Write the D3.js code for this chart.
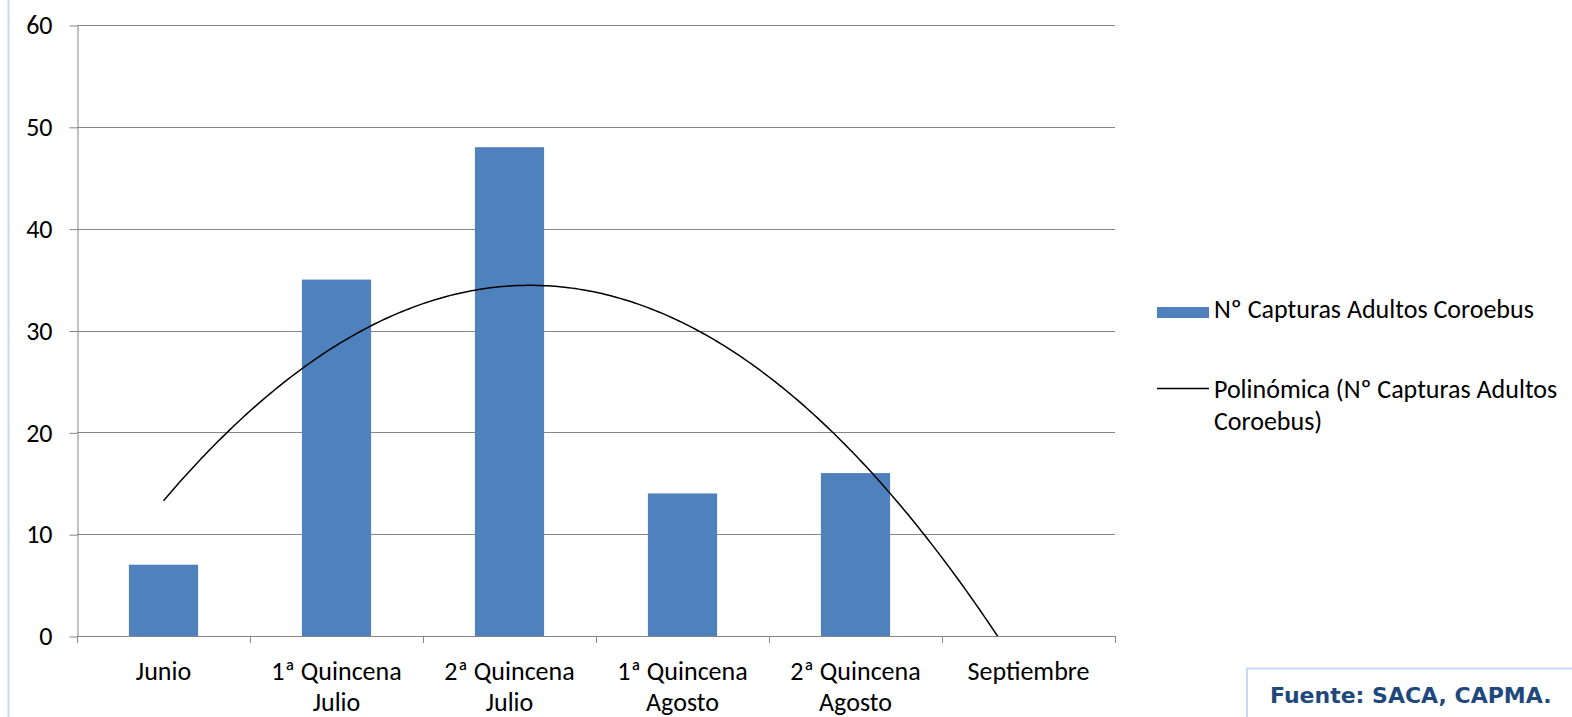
<!DOCTYPE html>
<html>
<head>
<meta charset="utf-8">
<script src="https://cdn.jsdelivr.net/npm/d3@7"></script>
<style>
  body { margin: 0; background: #fff; }
  text { font-family: Carlito, Calibri, Lato, sans-serif; }
</style>
</head>
<body>
<script>
var width = 1572;
var height = 717;

var categories = [["Junio"], ["1ª Quincena", "Julio"], ["2ª Quincena", "Julio"],
                  ["1ª Quincena", "Agosto"], ["2ª Quincena", "Agosto"], ["Septiembre"]];
var capturas = [7, 35, 48, 14, 16, 0];
var yTicks = [0, 10, 20, 30, 40, 50, 60];
var seriesName = "Nº Capturas Adultos Coroebus";
var trendName = ["Polinómica (Nº Capturas Adultos", "Coroebus)"];
var fuente = "Fuente: SACA, CAPMA.";

var plotLeft = 77, plotRight = 1115, plotTop = 25, plotBottom = 636;
var fs = 26;

var svg = d3.select("body").append("svg")
    .attr("width", width)
    .attr("height", height);

// page border on the left
svg.append("line")
    .attr("x1", 8.5).attr("x2", 8.5)
    .attr("y1", 0).attr("y2", height)
    .attr("stroke", "#c6d9f1").attr("stroke-width", 2);

var x = d3.scaleBand()
    .domain(d3.range(categories.length))
    .range([plotLeft, plotRight])
    .paddingInner(0.6).paddingOuter(0.3);
var band = (plotRight - plotLeft) / categories.length;

var y = d3.scaleLinear().domain([0, 60]).range([plotBottom, plotTop]);

// gridlines
svg.append("g").selectAll("line")
    .data(yTicks.filter(function(d) { return d > 0; }))
    .join("line")
    .attr("x1", plotLeft).attr("x2", plotRight)
    .attr("y1", function(d) { return Math.round(y(d)) + 0.5; })
    .attr("y2", function(d) { return Math.round(y(d)) + 0.5; })
    .attr("stroke", "#868686").attr("stroke-width", 1);

// y axis
var yAxis = svg.append("g")
    .attr("transform", "translate(" + (plotLeft + 0.5) + ",0.5)")
    .call(d3.axisLeft(y).tickValues(yTicks).tickSize(8).tickPadding(17).tickSizeOuter(0));
yAxis.select(".domain").attr("stroke", "#868686");
yAxis.selectAll(".tick line").attr("stroke", "#868686");
yAxis.selectAll(".tick text")
    .attr("font-size", fs).attr("fill", "#000")
    .style("font-family", "Carlito, Calibri, Lato, sans-serif");

// bars
svg.append("g").selectAll("rect")
    .data(capturas)
    .join("rect")
    .attr("x", function(d, i) { return x(i); })
    .attr("width", x.bandwidth())
    .attr("y", function(d) { return y(d); })
    .attr("height", function(d) { return y(0) - y(d); })
    .attr("fill", "#4f81bd");

// x axis
var xa = svg.append("g");
xa.append("line")
    .attr("x1", plotLeft).attr("x2", plotRight + 1)
    .attr("y1", Math.round(y(0)) + 0.5).attr("y2", Math.round(y(0)) + 0.5)
    .attr("stroke", "#868686");
xa.selectAll(".xt")
    .data(d3.range(categories.length + 1))
    .join("line")
    .attr("class", "xt")
    .attr("x1", function(i) { return Math.round(plotLeft + i * band) + 0.5; })
    .attr("x2", function(i) { return Math.round(plotLeft + i * band) + 0.5; })
    .attr("y1", Math.round(y(0))).attr("y2", Math.round(y(0)) + 7)
    .attr("stroke", "#868686");
xa.selectAll(".xl")
    .data(categories)
    .join("text")
    .attr("class", "xl")
    .attr("text-anchor", "middle")
    .attr("font-size", fs)
    .attr("x", function(d, i) { return x(i) + x.bandwidth() / 2; })
    .attr("y", 680)
    .each(function(d) {
        var t = d3.select(this);
        d.forEach(function(s, k) {
            t.append("tspan")
                .attr("x", t.attr("x"))
                .attr("dy", k === 0 ? 0 : 31)
                .text(s);
        });
    });

// polynomial (order 2) trend line, least squares on the bar values
var xs = capturas.map(function(d, i) { return i + 1; });
var mx = d3.mean(xs);
var tc = xs.map(function(v) { return v - mx; });
var st2 = d3.sum(tc, function(v) { return v * v; });
var st4 = d3.sum(tc, function(v) { return v * v * v * v; });
var sy = d3.sum(capturas);
var sty = d3.sum(tc, function(v, i) { return v * capturas[i]; });
var st2y = d3.sum(tc, function(v, i) { return v * v * capturas[i]; });
var n = capturas.length;
var qc = (n * st2y - st2 * sy) / (n * st4 - st2 * st2);
var qa = (sy - qc * st2) / n;
var qb = sty / st2;
function trend(v) { var u = v - mx; return qa + qb * u + qc * u * u; }

// continuous x for the trend: category k sits at band centre
var xc = d3.scaleLinear()
    .domain([1, n])
    .range([x(0) + x.bandwidth() / 2, x(n - 1) + x.bandwidth() / 2]);

svg.append("clipPath").attr("id", "plotclip")
    .append("rect")
    .attr("x", plotLeft).attr("y", plotTop)
    .attr("width", plotRight - plotLeft).attr("height", y(0) - plotTop);

var steps = d3.range(1, n + 0.001, 0.02);
var line = d3.line()
    .x(function(v) { return xc(v); })
    .y(function(v) { return y(trend(v)); });
svg.append("path")
    .datum(steps)
    .attr("clip-path", "url(#plotclip)")
    .attr("d", line)
    .attr("fill", "none")
    .attr("stroke", "#000")
    .attr("stroke-width", 1.5);

// legend
var lg = svg.append("g");
lg.append("rect")
    .attr("x", 1157).attr("y", 307)
    .attr("width", 52).attr("height", 11)
    .attr("fill", "#4f81bd");
lg.append("text")
    .attr("x", 1214).attr("y", 318)
    .attr("font-size", fs)
    .text(seriesName);
lg.append("line")
    .attr("x1", 1157).attr("x2", 1209)
    .attr("y1", 388.5).attr("y2", 388.5)
    .attr("stroke", "#000").attr("stroke-width", 1.5);
lg.selectAll(".tn")
    .data(trendName)
    .join("text")
    .attr("class", "tn")
    .attr("x", 1214)
    .attr("y", function(d, i) { return 398 + i * 32; })
    .attr("font-size", fs)
    .text(function(d) { return d; });

// source box
svg.append("rect")
    .attr("x", 1247).attr("y", 668.5)
    .attr("width", 340).attr("height", 80)
    .attr("fill", "#fff")
    .attr("stroke", "#c6d9f1").attr("stroke-width", 2);
svg.append("text")
    .attr("x", 1270).attr("y", 703)
    .attr("font-size", 22)
    .attr("font-weight", "bold")
    .attr("fill", "#1f497d")
    .style("font-family", "Tahoma, 'DejaVu Sans', sans-serif")
    .text(fuente);
</script>
</body>
</html>
